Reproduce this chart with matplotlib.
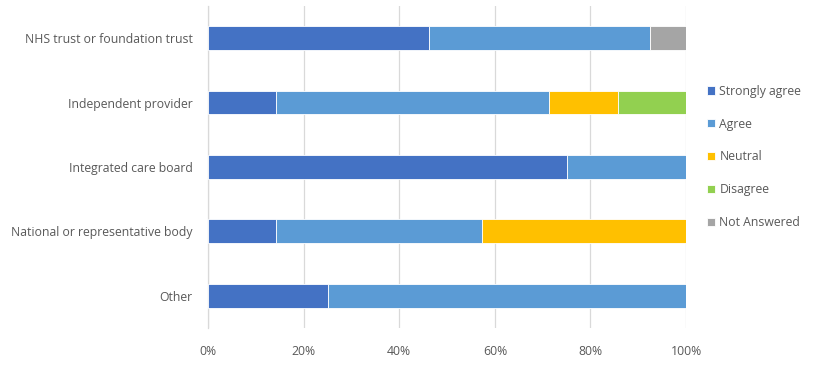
import matplotlib
matplotlib.use("Agg")
import matplotlib.pyplot as plt
import numpy as np

categories = ["NHS trust or foundation trust", "Independent provider", "Integrated care board",
              "National or representative body", "Other"]
series_names = ["Strongly agree", "Agree", "Neutral", "Disagree", "Not Answered"]
strongly_agree = [46.2, 14.3, 75.0, 14.3, 25.0]
agree = [46.2, 57.1, 25.0, 42.9, 75.0]
neutral = [0.0, 14.3, 0.0, 42.9, 0.0]
disagree = [0.0, 14.3, 0.0, 0.0, 0.0]
not_answered = [7.7, 0.0, 0.0, 0.0, 0.0]
colors = ["#4472C4", "#5B9BD5", "#FFC000", "#92D050", "#A5A5A5"]
xticks = [0, 20, 40, 60, 80, 100]

plt.rcParams['font.family'] = ['Open Sans', 'DejaVu Sans']
fig = plt.figure(figsize=(8.16, 3.69), dpi=100)
ax = fig.add_axes([0.255, 0.111, 0.5858, 0.873])

data = [strongly_agree, agree, neutral, disagree, not_answered]
y = np.arange(len(categories))
left = np.zeros(len(categories))
for name, vals, c in zip(series_names, data, colors):
    vals = np.array(vals)
    ax.barh(y, vals, left=left, height=0.37, color=c, label=name, edgecolor='white', linewidth=0.6, zorder=3)
    left += vals

ax.set_xlim(0, 100)
ax.set_ylim(4.5, -0.5)
ax.set_yticks(y)
ax.set_yticklabels(categories, fontsize=8.8, color='#595959')
ax.set_xticks(xticks)
ax.set_xticklabels([f"{t}%" for t in xticks], fontsize=8.8, color='#595959')
ax.tick_params(axis='both', length=0)
ax.tick_params(axis='y', pad=11)
ax.tick_params(axis='x', pad=12)
ax.grid(axis='x', color='#D9D9D9', linewidth=0.9, zorder=0)
for s in ['top', 'right', 'bottom']:
    ax.spines[s].set_visible(False)
ax.spines['left'].set_color('#D9D9D9')
ax.spines['left'].set_linewidth(0.9)

leg = fig.legend(loc='upper left', bbox_to_anchor=(0.853, 0.80), frameon=False, fontsize=8.8,
                 handlelength=0.65, handleheight=0.65, handletextpad=0.35, labelspacing=1.62)
for t in leg.get_texts():
    t.set_color('#595959')

fig.savefig("out.png", dpi=100)
